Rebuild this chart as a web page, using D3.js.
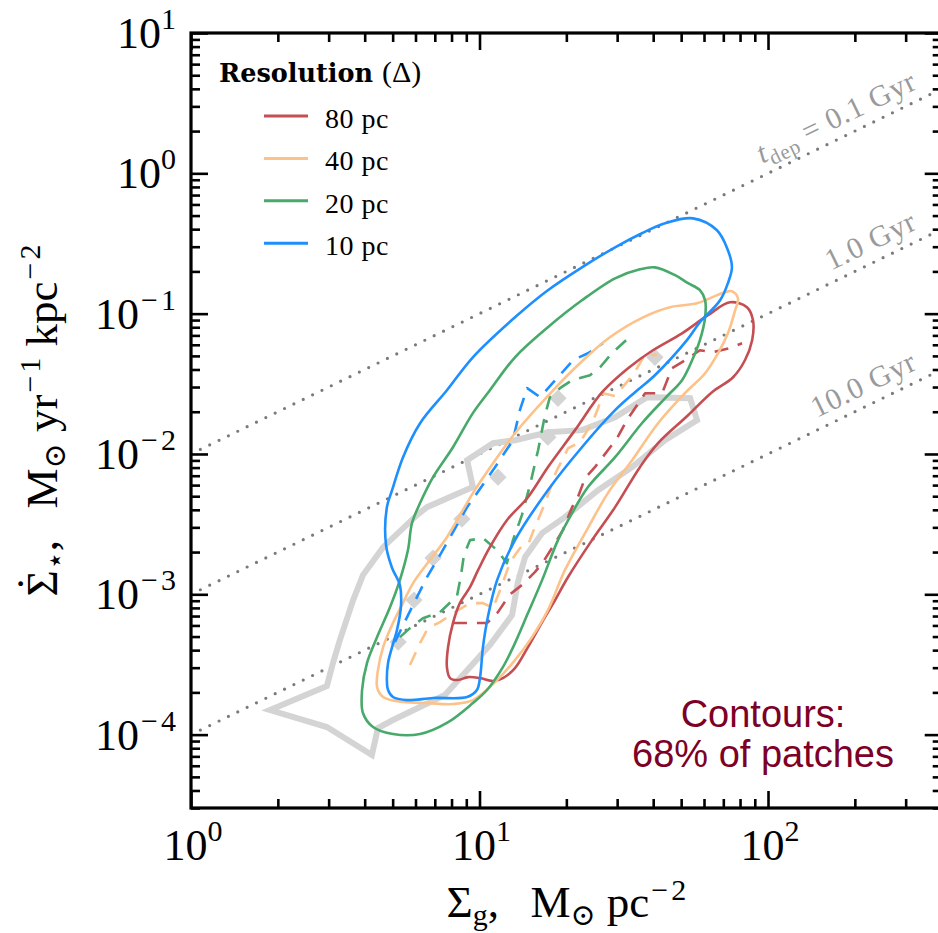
<!DOCTYPE html>
<html>
<head>
<meta charset="utf-8">
<script src="https://cdn.jsdelivr.net/npm/d3@7"></script>
<style>
  body { margin: 0; background: #fff; }
  svg { display: block; }
</style>
</head>
<body>
<svg id="chart" width="938" height="933"></svg>
<script>
// Kennicutt–Schmidt plane: 68% contours of patches at four resolutions.
// All point pairs are [log10 Σg (M⊙ pc⁻²), log10 Σ̇⋆ (M⊙ yr⁻¹ kpc⁻²)].

const resolutions = ["80 pc", "40 pc", "20 pc", "10 pc"];
const resolutionColors = ["#c44e52", "#fdc28a", "#47a96a", "#1e8fff"];

const logContour80pc = [
  [1.868,-0.919],[1.927,-0.954],[1.948,-1.047],[1.945,-1.189],[1.920,-1.332],[1.879,-1.453],
  [1.806,-1.560],[1.723,-1.724],[1.619,-1.923],[1.556,-2.094],[1.470,-2.379],[1.390,-2.614],
  [1.307,-2.877],[1.262,-3.041],[1.217,-3.198],[1.168,-3.376],[1.123,-3.526],[1.081,-3.597],
  [1.047,-3.618],[1.002,-3.597],[0.960,-3.590],[0.925,-3.611],[0.898,-3.597],[0.887,-3.519],
  [0.891,-3.376],[0.908,-3.205],[0.932,-3.063],[0.967,-2.949],[0.995,-2.828],[1.036,-2.664],
  [1.095,-2.472],[1.168,-2.308],[1.237,-2.094],[1.331,-1.830],[1.425,-1.560],[1.515,-1.389],
  [1.601,-1.261],[1.702,-1.140],[1.792,-1.011]
];

const logContour40pc = [
  [1.875,-0.840],[1.896,-0.890],[1.886,-0.976],[1.861,-1.140],[1.827,-1.282],[1.782,-1.425],
  [1.712,-1.567],[1.619,-1.781],[1.529,-2.044],[1.445,-2.279],[1.366,-2.564],[1.296,-2.828],
  [1.237,-3.113],[1.182,-3.305],[1.123,-3.469],[1.061,-3.611],[0.977,-3.754],[0.908,-3.782],
  [0.818,-3.775],[0.735,-3.768],[0.666,-3.732],[0.645,-3.661],[0.648,-3.540],[0.666,-3.376],
  [0.700,-3.205],[0.731,-3.077],[0.770,-2.920],[0.828,-2.756],[0.887,-2.593],[0.977,-2.279],
  [1.047,-2.066],[1.123,-1.852],[1.255,-1.546],[1.348,-1.353],[1.452,-1.168],[1.567,-1.026],
  [1.660,-0.954],[1.754,-0.926],[1.841,-0.855]
];

const logContour20pc = [
  [1.608,-0.670],[1.678,-0.726],[1.723,-0.783],[1.764,-0.833],[1.782,-0.905],[1.782,-1.026],
  [1.764,-1.189],[1.737,-1.332],[1.702,-1.474],[1.643,-1.603],[1.563,-1.781],[1.470,-2.023],
  [1.376,-2.236],[1.321,-2.422],[1.272,-2.614],[1.217,-2.899],[1.168,-3.134],[1.123,-3.348],
  [1.081,-3.519],[1.026,-3.682],[0.977,-3.775],[0.887,-3.917],[0.794,-3.996],[0.700,-3.996],
  [0.631,-3.946],[0.596,-3.846],[0.593,-3.682],[0.610,-3.490],[0.645,-3.305],[0.690,-3.091],
  [0.724,-2.899],[0.752,-2.685],[0.766,-2.493],[0.794,-2.350],[0.839,-2.165],[0.908,-1.952],
  [0.977,-1.709],[1.036,-1.546],[1.123,-1.311],[1.237,-1.097],[1.355,-0.905],[1.470,-0.748],
  [1.556,-0.684]
];

const logContour10pc = [
  [1.740,-0.321],[1.823,-0.406],[1.861,-0.548],[1.875,-0.670],[1.861,-0.783],[1.834,-0.905],
  [1.764,-1.061],[1.719,-1.189],[1.608,-1.439],[1.539,-1.560],[1.470,-1.688],[1.355,-1.952],
  [1.237,-2.258],[1.123,-2.614],[1.061,-2.899],[1.029,-3.162],[1.012,-3.376],[1.002,-3.590],
  [0.991,-3.682],[0.957,-3.732],[0.839,-3.739],[0.749,-3.754],[0.700,-3.732],[0.683,-3.682],
  [0.679,-3.611],[0.683,-3.490],[0.697,-3.376],[0.714,-3.255],[0.728,-3.077],[0.724,-2.934],
  [0.697,-2.813],[0.676,-2.650],[0.679,-2.379],[0.697,-2.258],[0.735,-2.023],[0.794,-1.781],
  [0.887,-1.546],[0.977,-1.311],[1.123,-1.026],[1.237,-0.833],[1.355,-0.670],[1.470,-0.527],
  [1.563,-0.427],[1.643,-0.356]
];

// Binned medians for each resolution (dashed)
const logMedian80pc = [
  [0.908,-3.205],[0.967,-3.205],[1.026,-3.205],[1.064,-3.127],[1.106,-2.999],[1.147,-2.934],
  [1.192,-2.842],[1.220,-2.771],[1.262,-2.635],[1.289,-2.543],[1.321,-2.379],[1.341,-2.308],
  [1.366,-2.172],[1.400,-2.094],[1.445,-1.973],[1.477,-1.887],[1.511,-1.759],[1.539,-1.674],
  [1.574,-1.567],[1.633,-1.567],[1.667,-1.389],[1.702,-1.346],[1.764,-1.261],[1.809,-1.275],
  [1.868,-1.246],[1.910,-1.211]
];

const logMedian40pc = [
  [0.759,-3.504],[0.794,-3.348],[0.821,-3.241],[0.863,-3.198],[0.932,-3.105],[0.967,-3.063],
  [1.012,-3.063],[1.047,-3.098],[1.078,-2.934],[1.106,-2.771],[1.140,-2.671],[1.168,-2.650],
  [1.185,-2.557],[1.227,-2.350],[1.265,-2.130],[1.307,-1.959],[1.348,-1.916],[1.390,-1.781],
  [1.411,-1.674],[1.428,-1.567],[1.470,-1.588],[1.522,-1.460],[1.546,-1.389],[1.574,-1.289],
  [1.615,-1.296]
];

const logMedian20pc = [
  [0.724,-3.305],[0.759,-3.241],[0.804,-3.170],[0.863,-3.127],[0.922,-3.013],[0.936,-2.863],
  [0.946,-2.721],[0.967,-2.614],[1.012,-2.600],[1.061,-2.685],[1.095,-2.778],[1.116,-2.614],
  [1.147,-2.436],[1.175,-2.222],[1.203,-1.973],[1.227,-1.724],[1.244,-1.595],[1.279,-1.531],
  [1.321,-1.474],[1.383,-1.439],[1.418,-1.382],[1.459,-1.282],[1.508,-1.189]
];

const logMedian10pc = [
  [0.707,-3.340],[0.766,-3.091],[0.818,-2.877],[0.863,-2.721],[0.957,-2.379],[1.047,-2.115],
  [1.116,-1.902],[1.140,-1.688],[1.165,-1.531],[1.210,-1.595],[1.269,-1.460],[1.324,-1.332],
  [1.376,-1.282],[1.428,-1.211]
];

// Observed comparison sample: gray contour and median diamonds
const logObsContour = [
  [0.274,-3.825],[0.471,-3.654],[0.492,-3.490],[0.516,-3.326],[0.562,-3.041],[0.596,-2.863],
  [0.666,-2.664],[0.783,-2.436],[0.818,-2.379],[0.977,-2.236],[0.957,-2.044],[1.047,-1.923],
  [1.123,-1.902],[1.237,-1.845],[1.355,-1.830],[1.470,-1.738],[1.581,-1.595],[1.730,-1.603],
  [1.754,-1.759],[1.643,-1.902],[1.529,-2.094],[1.411,-2.258],[1.296,-2.450],[1.217,-2.564],
  [1.158,-2.735],[1.133,-2.913],[1.113,-3.148],[1.036,-3.362],[0.880,-3.718],[0.700,-3.896],
  [0.648,-3.953],[0.627,-4.145],[0.471,-3.946]
];

const logObsMedian = [
  [0.718,-3.340],[0.773,-3.041],[0.839,-2.742],[0.939,-2.464],[1.064,-2.165],[1.237,-1.880],
  [1.272,-1.603],[1.608,-1.311]
];

// Constant depletion-time lines
const depletionTimesGyr = [0.1, 1.0, 10.0];
const depletionLabels = ["0.1 Gyr", "1.0 Gyr", "10.0 Gyr"];

// Axis ticks
const xMajorTicks = [1, 10, 100];
const xMajorExp = ["0", "1", "2"];
const yMajorTicks = [1e1, 1e0, 1e-1, 1e-2, 1e-3, 1e-4];
const yMajorExp = ["1", "0", "\u22121", "\u22122", "\u22123", "\u22124"];

// ---------------------------------------------------------------
const svg = d3.select("#chart");
const serif = "'Liberation Serif', 'DejaVu Serif', serif";

const x = d3.scaleLog().domain([1, 400]).range([191, 941.7]);
const y = d3.scaleLog().domain([3e-5, 10]).range([808, 33]);
const [x0, x1] = x.range();
const [y0, y1] = [y.range()[1], y.range()[0]]; // top, bottom

const toPx = d => [x(10 ** d[0]), y(10 ** d[1])];

svg.append("defs").append("clipPath").attr("id", "plotClip")
  .append("rect").attr("x", x0).attr("y", y0).attr("width", x1 - x0).attr("height", y1 - y0);

const plot = svg.append("g").attr("clip-path", "url(#plotClip)");

// depletion-time lines
depletionTimesGyr.forEach(t => {
  const sfr = g => g * 1e-3 / t; // Σg[M⊙/pc²]·1e6 / (t·1e9 yr)
  plot.append("line")
    .attr("x1", x(1)).attr("y1", y(sfr(1)))
    .attr("x2", x(400)).attr("y2", y(sfr(400)))
    .attr("stroke", "#7a7a7a").attr("stroke-width", 3.2)
    .attr("stroke-linecap", "round").attr("stroke-dasharray", "0 10.4");
});

// observed sample
plot.append("path")
  .attr("d", d3.line().curve(d3.curveLinearClosed)(logObsContour.map(toPx)))
  .attr("fill", "none").attr("stroke", "#d4d4d4").attr("stroke-width", 6)
  .attr("stroke-linejoin", "miter");

plot.selectAll(".obsMed").data(logObsMedian).join("path")
  .attr("class", "obsMed")
  .attr("d", d3.symbol(d3.symbolSquare, 150)())
  .attr("transform", d => { const p = toPx(d); return `translate(${p[0]},${p[1]}) rotate(45)`; })
  .attr("fill", "#d4d4d4");

// medians (dashed)
const medians = [logMedian80pc, logMedian40pc, logMedian20pc, logMedian10pc];
const dashLine = d3.line().curve(d3.curveLinear);
medians.forEach((m, i) => {
  plot.append("path")
    .attr("d", dashLine(m.map(toPx)))
    .attr("fill", "none").attr("stroke", resolutionColors[i]).attr("stroke-width", 2.6)
    .attr("stroke-dasharray", "14 10").attr("stroke-linejoin", "round");
});

// 68% contours
const contours = [logContour80pc, logContour40pc, logContour20pc, logContour10pc];
const smooth = d3.line().curve(d3.curveCatmullRomClosed.alpha(0.5));
contours.forEach((c, i) => {
  plot.append("path")
    .attr("d", smooth(c.map(toPx)))
    .attr("fill", "none").attr("stroke", resolutionColors[i]).attr("stroke-width", 2.6);
});

// depletion-time labels
const labelAt = 345;
depletionTimesGyr.forEach((t, i) => {
  const px = x(labelAt), py = y(labelAt * 1e-3 / t);
  const ang = Math.atan2(y(1e-3 / t) - y(400 * 1e-3 / t), x(400) - x(1)) * 180 / Math.PI;
  const txt = svg.append("text")
    .attr("transform", `translate(${px},${py}) rotate(${-ang})`)
    .attr("y", -11)
    .attr("text-anchor", "end")
    .attr("font-family", serif).attr("font-size", 30).attr("letter-spacing", 0.8)
    .attr("fill", "#9a9a9a");
  if (i === 0) {
    txt.append("tspan").attr("font-style", "italic").text("t");
    txt.append("tspan").attr("font-size", 21).attr("dy", 6).text("dep");
    txt.append("tspan").attr("dy", -6).text(" = " + depletionLabels[i]);
  } else {
    txt.text(depletionLabels[i]);
  }
});

// axes frame and ticks
const axes = svg.append("g");
const majorLen = 17, minorLen = 9;
const xMinor = [];
[1, 10, 100].forEach(d => { for (let m = 2; m <= 9; m++) if (d * m <= 400) xMinor.push(d * m); });
const yMinor = [];
[1e-5, 1e-4, 1e-3, 1e-2, 1e-1, 1].forEach(d => { for (let m = 2; m <= 9; m++) { const v = d * m; if (v >= 3e-5 && v <= 10) yMinor.push(v); } });

function tickAxes(xt, yt, len) {
  axes.append("g").attr("transform", `translate(0,${y1})`)
    .call(d3.axisBottom(x).tickValues(xt).tickSize(-len).tickFormat(""));
  axes.append("g").attr("transform", `translate(0,${y0})`)
    .call(d3.axisTop(x).tickValues(xt).tickSize(-len).tickFormat(""));
  axes.append("g").attr("transform", `translate(${x0},0)`)
    .call(d3.axisLeft(y).tickValues(yt).tickSize(-len).tickFormat(""));
  axes.append("g").attr("transform", `translate(${x1},0)`)
    .call(d3.axisRight(y).tickValues(yt).tickSize(-len).tickFormat(""));
}
tickAxes(xMajorTicks, yMajorTicks, majorLen);
tickAxes(xMinor, yMinor, minorLen);
axes.selectAll(".domain").remove();
axes.selectAll(".tick line").attr("stroke", "#000").attr("stroke-width", 2.6);

svg.append("rect")
  .attr("x", x0).attr("y", y0).attr("width", x1 - x0).attr("height", y1 - y0)
  .attr("fill", "none").attr("stroke", "#000").attr("stroke-width", 3.2);

// exponent tspan: the minus sign is set wider, as in math typesetting
function expo(sel, s, dy, size) {
  if (s.startsWith("\u2212")) {
    sel.append("tspan").attr("dy", dy).attr("font-size", size).attr("dx", 2).text("\u2212");
    sel.append("tspan").attr("font-size", size).attr("dx", 3).text(s.slice(1));
  } else {
    sel.append("tspan").attr("dy", dy).attr("font-size", size).text(s);
  }
}

// tick labels
xMajorTicks.forEach((v, i) => {
  const t = svg.append("text")
    .attr("x", x(v) + 2).attr("y", 860)
    .attr("text-anchor", "middle").attr("font-family", serif).attr("font-size", 44);
  t.append("tspan").text("10");
  expo(t, xMajorExp[i], -19, 30);
});
yMajorTicks.forEach((v, i) => {
  const t = svg.append("text")
    .attr("x", 176).attr("y", y(v) + 15)
    .attr("text-anchor", "end").attr("font-family", serif).attr("font-size", 44);
  t.append("tspan").text("10");
  expo(t, yMajorExp[i], -19, 30);
});

// axis titles
const xl = svg.append("text")
  .attr("x", (x0 + x1) / 2).attr("y", 917)
  .attr("text-anchor", "middle").attr("font-family", serif).attr("font-size", 45);
xl.append("tspan").text("\u03A3");
xl.append("tspan").attr("font-size", 30).attr("dy", 8).text("g");
xl.append("tspan").attr("dy", -8).text(",\u2002\u2009M");
xl.append("tspan").attr("font-size", 30).attr("dy", 8).text("\u2299");
xl.append("tspan").attr("dy", -8).text(" pc");
expo(xl, "\u22122", -17, 30);

const yl = svg.append("text")
  .attr("transform", `translate(57,${(y0 + y1) / 2}) rotate(-90)`)
  .attr("text-anchor", "middle").attr("font-family", serif).attr("font-size", 45);
yl.append("tspan").text("\u03A3");
yl.append("tspan").attr("dx", -21).attr("dy", -9).text("\u02D9");
yl.append("tspan").attr("dx", 6).attr("dy", 17).attr("font-size", 30).text("\u22C6");
yl.append("tspan").attr("dy", -8).text(",\u2002\u2009M");
yl.append("tspan").attr("font-size", 30).attr("dy", 8).text("\u2299");
yl.append("tspan").attr("dy", -8).text(" yr");
expo(yl, "\u22121", -17, 30);
yl.append("tspan").attr("dy", 17).text(" kpc");
expo(yl, "\u22122", -17, 30);

// legend
const legTitle = svg.append("text")
  .attr("x", 219).attr("y", 82).attr("font-family", "'DejaVu Serif', serif").attr("font-size", 25.5);
legTitle.append("tspan").attr("font-weight", "bold").text("Resolution ");
legTitle.append("tspan").attr("font-family", serif).attr("font-size", 30).text("(\u0394)");

resolutions.forEach((r, i) => {
  const ly = 116 + i * 42.4;
  svg.append("line").attr("x1", 264).attr("x2", 308).attr("y1", ly).attr("y2", ly)
    .attr("stroke", resolutionColors[i]).attr("stroke-width", 3);
  svg.append("text").attr("x", 325).attr("y", ly + 12)
    .attr("font-family", serif).attr("font-size", 28).attr("letter-spacing", 0.5).text(r);
});

// annotation
const note = svg.append("text")
  .attr("text-anchor", "middle").attr("font-family", "'Liberation Sans', Arial, sans-serif")
  .attr("font-size", 38).attr("fill", "#7d0026");
note.append("tspan").attr("x", 763).attr("y", 727).text("Contours:");
note.append("tspan").attr("x", 763).attr("y", 767).text("68% of patches");
</script>
</body>
</html>
